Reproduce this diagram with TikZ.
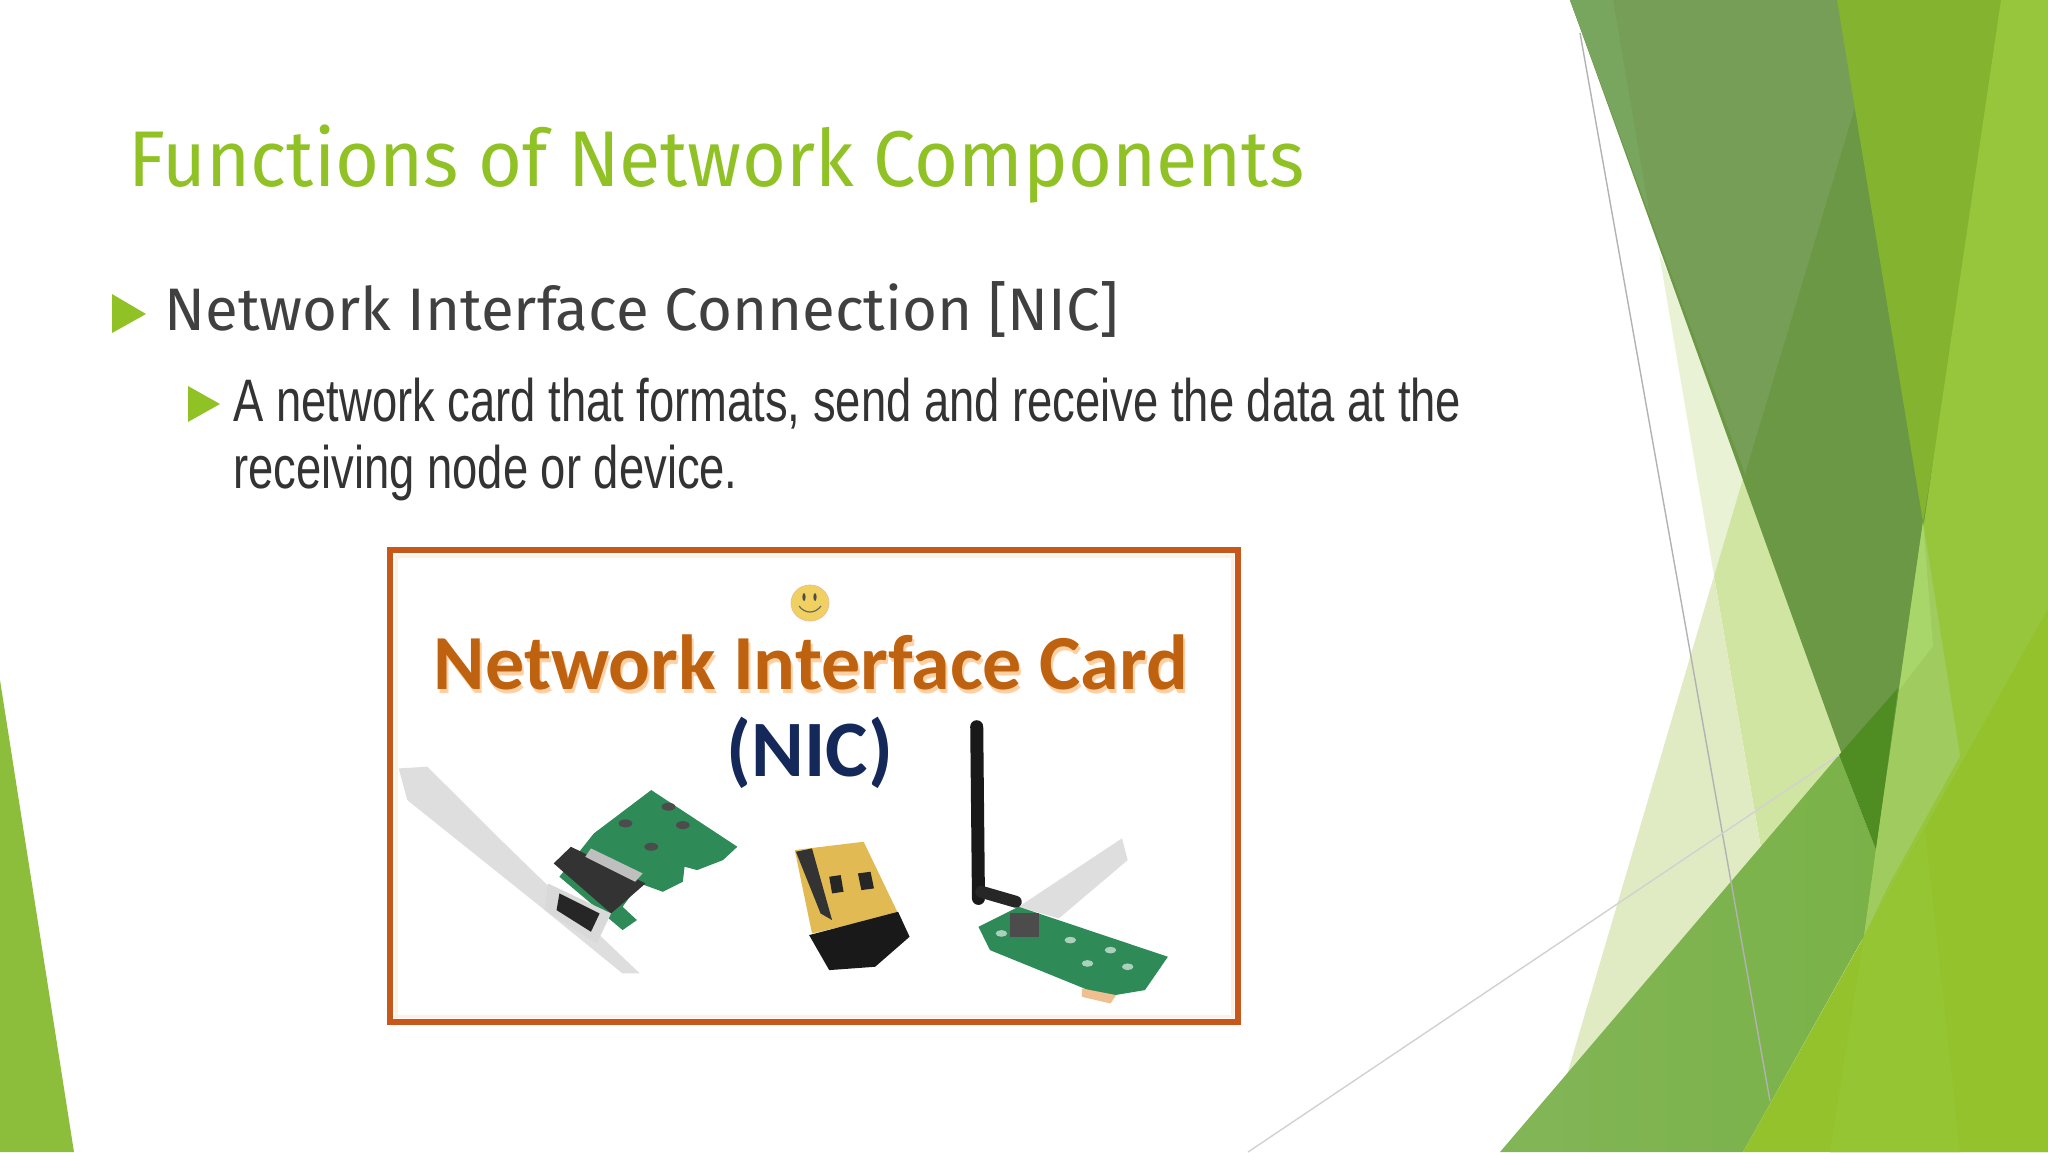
\documentclass[tikz,border=0pt]{standalone}
\usepackage{fontspec}
\setmainfont{Fira Sans}
\newfontfamily\titlefont[FakeStretch=0.955]{Fira Sans}
\newfontfamily\bodyfont[FakeStretch=0.756]{Liberation Sans}
\newfontfamily\cardfont[BoldFont={Carlito Bold}]{Carlito}
\definecolor{titlegreen}{HTML}{90C226}
\definecolor{darkfacet}{HTML}{6A9844}
\definecolor{mutedfacet}{HTML}{779E56}
\definecolor{sliverfacet}{HTML}{78A65F}
\definecolor{topfacet}{HTML}{83B32F}
\definecolor{lightfacet}{HTML}{97C63D}
\definecolor{midfacet}{HTML}{7AB248}
\definecolor{midpale}{HTML}{82B557}
\definecolor{lowfacet}{HTML}{93C22C}
\definecolor{stripefacet}{HTML}{96C534}
\definecolor{paleA}{HTML}{E9F2D5}
\definecolor{paleB}{HTML}{D1E5A2}
\definecolor{paleC}{HTML}{E0EBC3}
\definecolor{deepfacet}{HTML}{4F8D22}
\definecolor{softfacet}{HTML}{A0CC5F}
\definecolor{brightfacet}{HTML}{A8D66A}
\definecolor{edgefacet}{HTML}{8DBE3B}
\definecolor{pcbgreen}{HTML}{2E8B57}
\definecolor{usbgold}{HTML}{E2BA54}
\definecolor{smileyellow}{HTML}{F0D060}
\definecolor{frameorange}{HTML}{C8581A}
\definecolor{cardorange}{HTML}{BE6210}
\definecolor{cardnavy}{HTML}{14285A}
\tikzset{
  >=latex,
  facet/.style={draw=none},
  hairline/.style={line width=.7pt},
  bulletmark/.style={fill=titlegreen,draw=none},
  bodytext/.style={anchor=base west,inner sep=0pt,text=black!75},
  cardtext/.style={inner sep=0pt,anchor=base,font=\cardfont\bfseries\fontsize{39}{46}\selectfont},
}
\usetikzlibrary{positioning}

\begin{document}
\begin{tikzpicture}[x=.5pt,y=-.5pt]
    \useasboundingbox (0,0) rectangle (2048,1152);
    % facets on the right
    \fill[facet,paleA] (1659,253)--(1750,455)--(1714,576)--cycle;
    \fill[facet,paleB] (1750,455)--(1714,576)--(1763,860)--(1860,760)--cycle;
    \fill[facet,paleC] (1714,576)--(1561,1095)--(1763,860)--cycle;
    \fill[facet,darkfacet] (1570,0)--(2048,0)--(2048,700)--(1876,849)--cycle;
    \fill[facet,mutedfacet] (1570,0)--(1840,0)--(1855,107)--(1745,474)--cycle;
    \fill[facet,sliverfacet] (1570,0)--(1613,0)--(1650,217)--cycle;
    \fill[facet,topfacet] (1837,0)--(2010,0)--(1923,522)--cycle;
    \fill[facet,lightfacet] (2001,0)--(2048,0)--(2048,1152)--(1830,1152)--(1876,849)--cycle;
    \shade[facet,left color=midpale,right color=midfacet] (1500,1152)--(1839,755)--(1876,850)--(1864,936)--(1743,1152)--cycle;
    \fill[facet,deepfacet] (1839,755)--(1898,688)--(1876,850)--cycle;
    \fill[facet,softfacet] (1923,522)--(1960,756)--(1887,888)--(1864,936)--(1876,849)--cycle;
    \fill[facet,brightfacet] (1923,522)--(1933,646)--(1899,690)--cycle;
    \fill[facet,lowfacet] (2048,609)--(2048,1152)--(1743,1152)--cycle;
    \fill[facet,stripefacet] (1864,936)--(1830,1152)--(1960,1152)--(1925,830)--cycle;
    \fill[facet,edgefacet] (0,680)--(74,1152)--(0,1152)--cycle;
    \coordinate (hairA) at (1580,33);
    \coordinate (hairB) at (1770,1101);
    \coordinate (hairC) at (1248,1152);
    \coordinate (hairD) at (1839,755);
    \draw[hairline,black!30] (hairA)--(hairB);
    \draw[hairline,black!18] (hairC)--(hairD);
    % texts
    \node[anchor=base west,inner sep=0pt,text=titlegreen,font=\titlefont\fontsize{39.5}{46}\selectfont] (title) at (128,186) {Functions of Network Components};
    \fill[bulletmark] (112,294)--(146,314)--(112,333)--cycle;
    \node[bodytext,font=\fontsize{30}{36}\selectfont] (headline) at (164,330) {Network Interface Connection [NIC]};
    \fill[bulletmark] (188,386)--(220,404)--(188,422)--cycle;
    \node[bodytext,text=black!80,font=\bodyfont\fontsize{30}{36}\selectfont] (lineone) at (233,421) {A network card that formats, send and receive the data at the};
    \node[bodytext,text=black!80,font=\bodyfont\fontsize{30}{36}\selectfont] (linetwo) at (233,488) {receiving node or device.};
    % picture of the cards
    \draw[line width=3pt,frameorange,fill=white] (390,550) rectangle (1238,1022);
    \draw[line width=1.5pt,orange!12] (396,556) rectangle (1232,1016);
    \node[cardtext,text=orange!60,opacity=.6] (cardshadow) at (813,693) {Network Interface Card};
    \node[cardtext,text=cardorange] (cardname) at (811,689) {Network Interface Card};
    \node[cardtext,text=cardnavy,font=\cardfont\bfseries\fontsize{40}{46}\selectfont] (cardnic) at (810,776) {(NIC)};
    \fill[smileyellow,draw=orange!40!brown!50] (810,603) ellipse (19 and 18);
    \fill[black!70] (804,597) ellipse (1.6 and 4) (815,597) ellipse (1.6 and 4);
    \draw[black!60,line width=.6pt] (799,606) .. controls (805,614) and (815,614) .. (821,606);
    \begin{scope}[shift={(370,530)},x=.287pt,y=-.1667pt]
      % left card
      \fill[black!13] (50,715)--(100,710)--(240,950)--(330,1100)--(470,1330)--(440,1330)--(290,1120)--(65,810)--cycle;
      \fill[pcbgreen] (490,780)--(640,950)--(615,990)--(570,1020)--(548,1010)--(545,1055)--(510,1085)--(470,1060)--(440,1130)--(465,1170)--(440,1200)--(330,1040)--(390,910)--cycle;
      \fill[black!80] (350,950)--(480,1060)--(420,1150)--(320,1000)--cycle;
      \fill[black!25] (385,955)--(475,1030)--(462,1055)--(375,980)--cycle;
      \fill[black!15] (310,1060)--(420,1150)--(395,1240)--(305,1140)--cycle;
      \fill[black!85] (330,1090)--(400,1150)--(385,1205)--(325,1140)--cycle;
      \foreach \dotx/\doty in {445/880,545/885,490/950,520/830}
        \fill[black!70] (\dotx,\doty) ellipse (12 and 12);
      % usb stick
      \fill[usbgold] (740,960)--(860,935)--(920,1150)--(770,1210)--cycle;
      \fill[black!80] (742,965)--(770,955)--(805,1170)--(785,1150)--cycle;
      \fill[black!85] (800,1040)--(820,1035)--(825,1085)--(805,1090)--cycle;
      \fill[black!85] (850,1030)--(872,1025)--(878,1075)--(856,1080)--cycle;
      \fill[black!90] (765,1215)--(920,1145)--(940,1220)--(880,1310)--(800,1320)--cycle;
      % right card
      \fill[black!13] (1130,1130)--(1310,925)--(1320,990)--(1200,1165)--cycle;
      \fill[pcbgreen] (1060,1190)--(1130,1130)--(1390,1280)--(1350,1380)--(1280,1400)--(1080,1260)--cycle;
      \fill[orange!50!brown!50] (1240,1375)--(1300,1395)--(1290,1420)--(1240,1400)--cycle;
      \draw[black!90,line width=6.5pt,line cap=round] (1057,590)--(1060,1105);
      \draw[black!85,line width=6pt,line cap=round] (1065,1085)--(1125,1115);
      \fill[black!70] (1115,1150) rectangle (1165,1220);
      \foreach \dotx/\doty in {1220/1230,1290/1260,1320/1310,1250/1300,1100/1210}
        \fill[white!60!pcbgreen] (\dotx,\doty) ellipse (10 and 10);
    \end{scope}
  \end{tikzpicture}
\end{document}
